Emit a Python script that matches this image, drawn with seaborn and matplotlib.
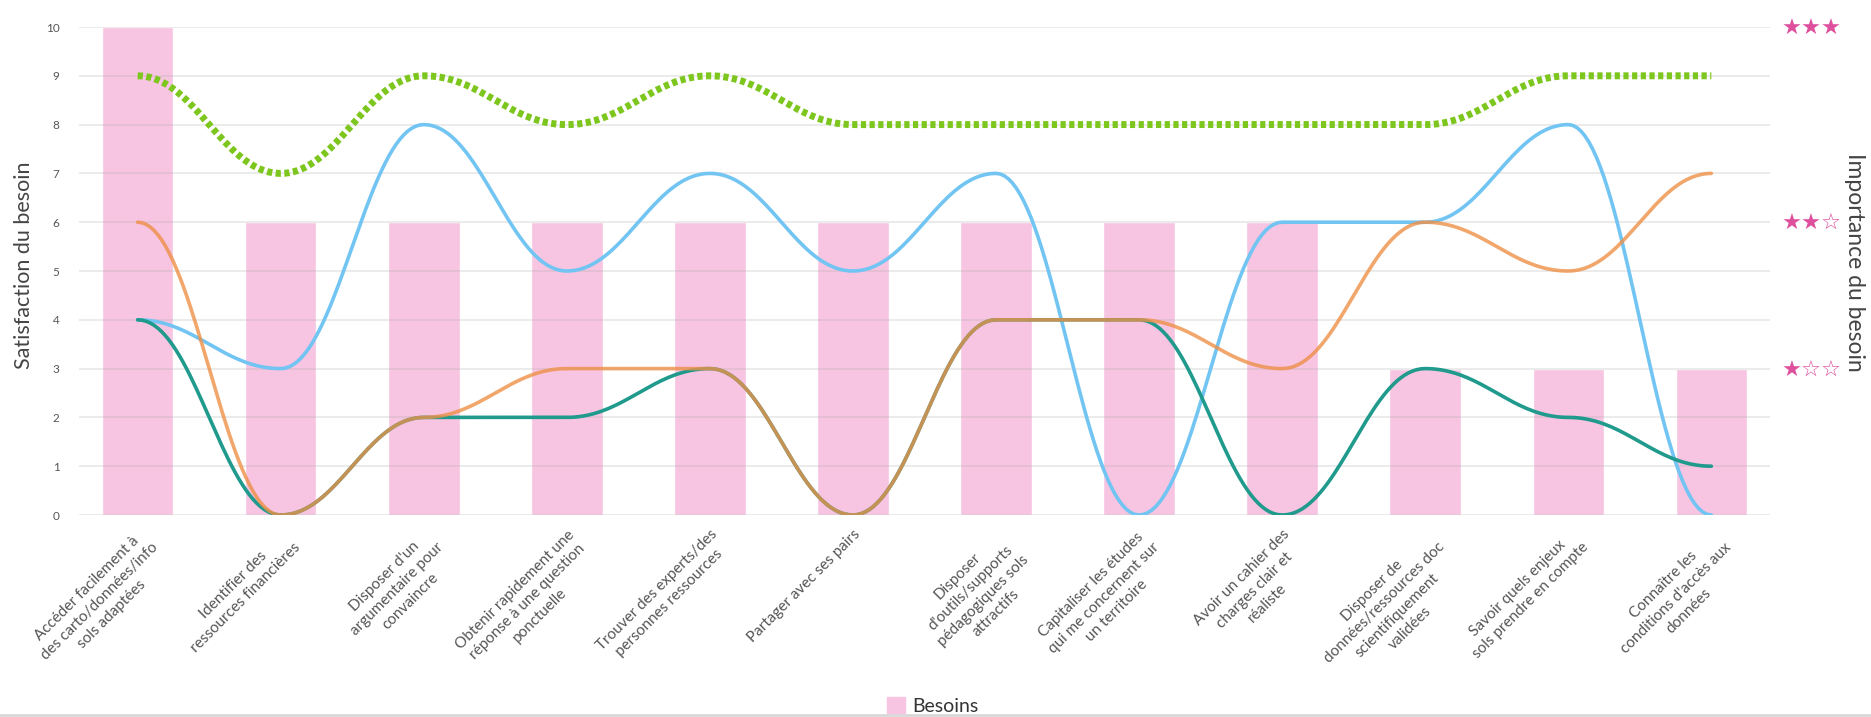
import numpy as np
import pandas as pd
import matplotlib
matplotlib.use("Agg")
import matplotlib.pyplot as plt
from matplotlib.patches import Patch
from matplotlib.lines import Line2D
import seaborn as sns

# ── Data ──────────────────────────────────────────────────────────────────────
BESOINS_LABELS = [
    "Accéder facilement à\ndes carto/données/info\nsols adaptées",
    "Identifier des\nressources financières",
    "Disposer d'un\nargumentaire pour\nconvaincre",
    "Obtenir rapidement une\nréponse à une question\nponctuelle",
    "Trouver des experts/des\npersonnes ressources",
    "Partager avec ses pairs",
    "Disposer\nd'outils/supports\npédagogiques sols\nattractifs",
    "Capitaliser les études\nqui me concernent sur\nun territoire",
    "Avoir un cahier des\ncharges clair et\nréaliste",
    "Disposer de\ndonnées/ressources doc\nscientifiquement\nvalidées",
    "Savoir quels enjeux\nsols prendre en compte",
    "Connaître les\nconditions d'accès aux\ndonnées",
]
BESOINS = [10, 6, 6, 6, 6, 6, 6, 6, 6, 3, 3, 3]
SERIE_VERTE = [9, 7, 9, 8, 9, 8, 8, 8, 8, 8, 9, 9]
SERIE_BLEUE = [4, 3, 8, 5, 7, 5, 7, 0, 6, 6, 8, 0]
SERIE_TURQUOISE = [4, 0, 2, 2, 3, 0, 4, 4, 0, 3, 2, 1]
SERIE_ORANGE = [6, 0, 2, 3, 3, 0, 4, 4, 3, 6, 5, 7]
IMPORTANCE_TICKS = [3, 6, 10]
IMPORTANCE_LABELS = ["★☆☆", "★★☆", "★★★"]

PINK = "#f7c4e1"
STAR = "#de4f9d"
TEXT = "#555555"


def smooth_curve(y, k=0.4, n=40):
    """Bezier path through the points with horizontal handles at each point."""
    y = np.asarray(y, dtype=float)
    xs, ys = [], []
    for i in range(len(y) - 1):
        u = np.linspace(0, 1, n, endpoint=(i == len(y) - 2))
        b0, b1, b2, b3 = (1 - u)**3, 3 * u * (1 - u)**2, 3 * u**2 * (1 - u), u**3
        xs.extend(b0 * i + b1 * (i + k) + b2 * (i + 1 - k) + b3 * (i + 1))
        ys.extend((b0 + b1) * y[i] + (b2 + b3) * y[i + 1])
    return np.array(xs), np.array(ys)


sns.set_theme(style="white")
plt.rcParams["font.family"] = ["Lato", "DejaVu Sans"]

fig = plt.figure(figsize=(18.71, 7.17), dpi=100)
ax = fig.add_axes([79 / 1871, 1 - 515 / 717, (1770 - 79) / 1871, (515 - 27) / 717])

df = pd.DataFrame({"besoin": BESOINS_LABELS, "valeur": BESOINS})
sns.barplot(data=df, x="besoin", y="valeur", color=PINK, saturation=1,
            width=0.5, ax=ax, zorder=1)

for serie, color, kw in [
    (SERIE_VERTE, "#7dc61e", dict(lw=5, linestyle=(0, (0.75, 0.5)))),
    (SERIE_BLEUE, "#72c5f3", dict(lw=2.6)),
    (SERIE_TURQUOISE, "#1f9a8c", dict(lw=2.6)),
    (SERIE_ORANGE, "#ee9047", dict(lw=2.6, alpha=0.8)),
]:
    xs, ys = smooth_curve(serie)
    sns.lineplot(x=xs, y=ys, ax=ax, color=color, sort=False, estimator=None,
                 zorder=3, **kw)

ax.set_xlim(-0.41, 11.41)
ax.set_ylim(0, 10)
ax.set_yticks(range(11))
ax.yaxis.grid(True, color="#b0b0b0", alpha=0.3, lw=1.2, zorder=2)
ax.set_axisbelow(False)
ax.set_xlabel("")
ax.set_ylabel("")
ax.set_xticks(range(len(BESOINS_LABELS)))
ax.set_xticklabels(BESOINS_LABELS, rotation=45, ha="right", va="top",
                   rotation_mode="anchor", multialignment="center",
                   fontsize=11, color=TEXT, linespacing=1.35)
ax.tick_params(axis="x", length=5, width=1, color="#d5d5d5", pad=4)
ax.tick_params(axis="y", length=0, pad=14, labelsize=8.5, labelcolor=TEXT)
for sp in ax.spines.values():
    sp.set_visible(False)

ax2 = ax.twinx()
ax2.set_ylim(0, 10)
ax2.set_yticks(IMPORTANCE_TICKS)
ax2.set_yticklabels(IMPORTANCE_LABELS, fontsize=16, color=STAR,
                    family=["DejaVu Sans"])
ax2.tick_params(axis="y", length=0, pad=8)
for sp in ax2.spines.values():
    sp.set_visible(False)

fig.text(24 / 1871, 1 - 265 / 717, "Satisfaction du besoin", rotation=90,
         ha="center", va="center", fontsize=15.5, color="#444444")
fig.text(1854 / 1871, 1 - 262 / 717, "Importance du besoin", rotation=270,
         ha="center", va="center", fontsize=16.5, color="#444444")

fig.legend(handles=[Patch(color=PINK, label="Besoins")], loc="center",
           bbox_to_anchor=(933 / 1871, 1 - 706 / 717), frameon=False,
           fontsize=14, handlelength=0.9, handleheight=0.9, handletextpad=0.4,
           labelcolor="#333333")
fig.add_artist(Line2D([0, 1], [1 - 715 / 717] * 2, transform=fig.transFigure,
                      color="#d8d8d8", lw=2))

fig.savefig("out.png", dpi=100)
plt.close(fig)
